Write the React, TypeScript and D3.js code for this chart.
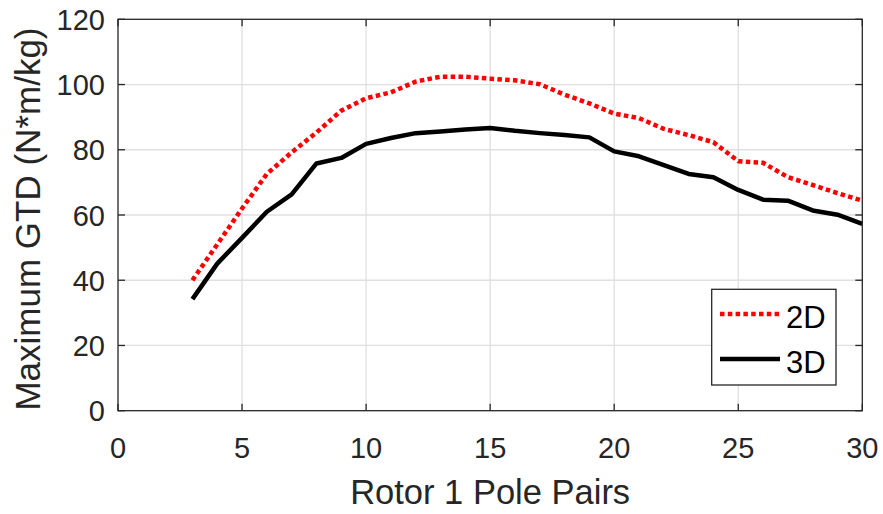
import React from "react";
import * as d3 from "d3";

// Rotor 1 pole pairs swept from 3 to 30
const polePairs = [3, 4, 5, 6, 7, 8, 9, 10, 11, 12, 13, 14, 15, 16, 17, 18, 19, 20, 21, 22, 23, 24, 25, 26, 27, 28, 29, 30];
// Maximum gear torque density, 2D model (N*m/kg)
const gtd2D = [40.0, 51.0, 62.0, 72.6, 79.2, 85.3, 92.0, 95.8, 97.6, 100.9, 102.4, 102.4, 101.8, 101.3, 100.1, 96.9, 94.2, 91.1, 89.7, 86.4, 84.5, 82.3, 76.5, 76.0, 71.6, 69.2, 66.7, 64.4];
// Maximum gear torque density, 3D model (N*m/kg)
const gtd3D = [34.2, 45.1, 53.0, 61.0, 66.3, 75.8, 77.5, 81.8, 83.6, 85.1, 85.6, 86.2, 86.7, 85.8, 85.1, 84.5, 83.8, 79.5, 78.0, 75.3, 72.6, 71.6, 67.7, 64.7, 64.4, 61.4, 60.1, 57.3];

const xTicks = [0, 5, 10, 15, 20, 25, 30];
const yTicks = [0, 20, 40, 60, 80, 100, 120];
const legendLabels = ["2D", "3D"];

const W = 883;
const H = 514;
const left = 118;
const right = 862.3;
const top = 19.3;
const bottom = 410.7;

const FONT = "'Liberation Sans', Arial, Helvetica, sans-serif";
const AXIS = "#262626";
const GRID = "#e0e0e0";
const TICK_LEN = 7;

export default function App() {
  const x = d3.scaleLinear().domain([0, 30]).range([left, right]);
  const y = d3.scaleLinear().domain([0, 120]).range([bottom, top]);

  const line = d3
    .line<number>()
    .x((_, i) => x(polePairs[i]))
    .y((d) => y(d));

  const series = [
    { label: legendLabels[0], values: gtd2D, color: "#ff0000", dash: "4.5,3.3" },
    { label: legendLabels[1], values: gtd3D, color: "#000000", dash: undefined as string | undefined },
  ];

  // legend box
  const lg = { x: 711.7, y: 289.3, w: 124.3, h: 95.7 };

  return (
    <svg
      width={W}
      height={H}
      viewBox={`0 0 ${W} ${H}`}
      style={{ position: "absolute", left: 0, top: 0, background: "#fff" }}
    >
      <rect x={0} y={0} width={W} height={H} fill="#fff" />

      {/* grid */}
      <g stroke={GRID} strokeWidth={1.3}>
        {xTicks.slice(1, -1).map((t) => (
          <line key={"gx" + t} x1={x(t)} x2={x(t)} y1={top} y2={bottom} />
        ))}
        {yTicks.slice(1, -1).map((t) => (
          <line key={"gy" + t} x1={left} x2={right} y1={y(t)} y2={y(t)} />
        ))}
      </g>

      {/* data lines */}
      {series.map((s) => (
        <path
          key={s.label}
          d={line(s.values) || ""}
          fill="none"
          stroke={s.color}
          strokeWidth={4.5}
          strokeDasharray={s.dash}
          strokeLinejoin="round"
        />
      ))}

      {/* box + ticks */}
      <g stroke={AXIS} strokeWidth={1.3} fill="none">
        <rect x={left} y={top} width={right - left} height={bottom - top} />
        {xTicks.map((t) => (
          <g key={"tx" + t}>
            <line x1={x(t)} x2={x(t)} y1={bottom} y2={bottom - TICK_LEN} />
            <line x1={x(t)} x2={x(t)} y1={top} y2={top + TICK_LEN} />
          </g>
        ))}
        {yTicks.map((t) => (
          <g key={"ty" + t}>
            <line x1={left} x2={left + TICK_LEN} y1={y(t)} y2={y(t)} />
            <line x1={right} x2={right - TICK_LEN} y1={y(t)} y2={y(t)} />
          </g>
        ))}
      </g>

      {/* tick labels */}
      <g fontFamily={FONT} fontSize={29} fill={AXIS}>
        {xTicks.map((t) => (
          <text key={"lx" + t} x={x(t)} y={bottom + 47.5} textAnchor="middle">
            {t}
          </text>
        ))}
        {yTicks.map((t) => (
          <text key={"ly" + t} x={left - 13} y={y(t) + 10.5} textAnchor="end">
            {t}
          </text>
        ))}
      </g>

      {/* axis labels */}
      <text
        x={(left + right) / 2}
        y={504}
        textAnchor="middle"
        fontFamily={FONT}
        fontSize={34.5}
        fill={AXIS}
      >
        Rotor 1 Pole Pairs
      </text>
      <text
        transform={`translate(40, 219) rotate(-90)`}
        textAnchor="middle"
        fontFamily={FONT}
        fontSize={35}
        fill={AXIS}
      >
        Maximum GTD (N*m/kg)
      </text>

      {/* legend */}
      <rect x={lg.x} y={lg.y} width={lg.w} height={lg.h} fill="#fff" stroke={AXIS} strokeWidth={1.3} />
      {series.map((s, i) => {
        const ly = i === 0 ? 314 : 359;
        return (
          <g key={"lg" + s.label}>
            <line
              x1={720}
              x2={780}
              y1={ly}
              y2={ly}
              stroke={s.color}
              strokeWidth={4.5}
              strokeDasharray={s.dash}
            />
            <text x={786} y={ly + 13.5} fontFamily={FONT} fontSize={31} fill="#000">
              {s.label}
            </text>
          </g>
        );
      })}
    </svg>
  );
}
